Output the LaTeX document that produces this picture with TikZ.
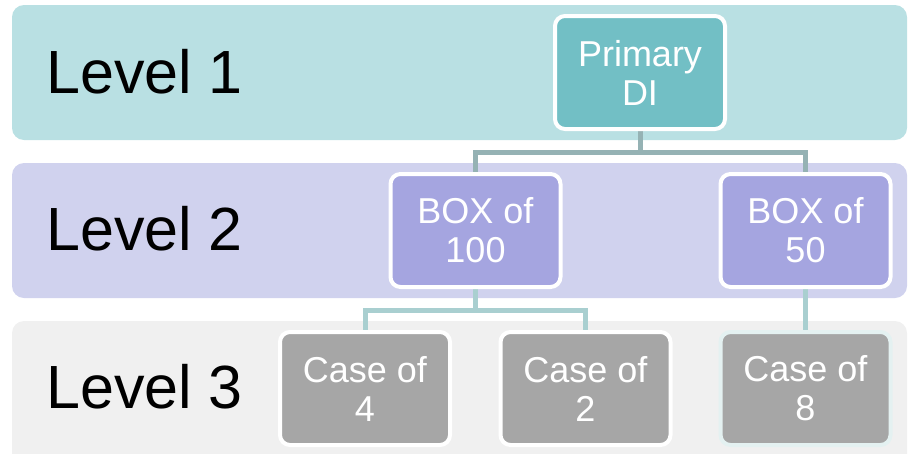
\documentclass[tikz,border=0pt]{standalone}
\usepackage{fontspec}
\setmainfont{Liberation Sans}
\pgfdeclarelayer{bg}
\pgfsetlayers{bg,main}
\definecolor{bandA}{HTML}{B9E0E3}
\definecolor{bandB}{HTML}{D0D2EE}
\definecolor{bandC}{HTML}{F0F0F0}
\definecolor{fillA}{HTML}{72BFC5}
\definecolor{fillB}{HTML}{A5A5E0}
\definecolor{fillC}{HTML}{A6A6A6}
\definecolor{connA}{HTML}{95B2B4}
\definecolor{connB}{HTML}{A9CFD0}
\definecolor{edgeC}{HTML}{E4F1F1}
\tikzset{
  band/.style={rounded corners=12pt},
  lvl/.style={anchor=base west, font=\fontsize{61}{68}\selectfont, text=black, inner sep=0pt},
  unit/.style={draw=white, line width=4pt, rounded corners=10pt, minimum width=170pt, minimum height=113pt,
    text=white, align=center, font=\fontsize{36}{39}\selectfont, inner sep=0pt},
  conn1/.style={draw=connA, line width=5pt},
  conn2/.style={draw=connB, line width=5pt}
}
\begin{document}
\begin{tikzpicture}[x=1pt,y=-1pt]
\useasboundingbox (0,0) rectangle (910,453);
\begin{pgfonlayer}{bg}
\fill[band, bandA] (12,5) rectangle (907,140);
\fill[band, bandB] (12,163) rectangle (907,298);
\fill[band, bandC] (12,321) rectangle (907,470);
\end{pgfonlayer}
\node[lvl] (l1) at (46,93) {Level 1};
\node[lvl] (l2) at (46,250) {Level 2};
\node[lvl] (l3) at (46,408) {Level 3};
\node[unit, fill=fillA] (p) at (640,72.5) {Primary\\DI};
\node[unit, fill=fillB] (b1) at (475.5,230.5) {BOX of\\100};
\node[unit, fill=fillB] (b2) at (805.5,230.5) {BOX of\\50};
\node[unit, fill=fillC] (c1) at (365,388.5) {Case of\\4};
\node[unit, fill=fillC] (c2) at (585.5,388.5) {Case of\\2};
\node[unit, fill=fillC, draw=edgeC] (c3) at (805.5,388.5) {Case of\\8};
\coordinate (j1) at (640,152);
\coordinate (j2) at (475.5,310);
\begin{pgfonlayer}{bg}
\draw[conn1] (p.south) -- (j1);
\draw[conn1] (b1.north) |- (j1) -| (b2.north);
\draw[conn2] (b1.south) -- (j2);
\draw[conn2] (c1.north) |- (j2) -| (c2.north);
\draw[conn2] (b2.south) -- (c3.north);
\end{pgfonlayer}
\end{tikzpicture}
\end{document}
